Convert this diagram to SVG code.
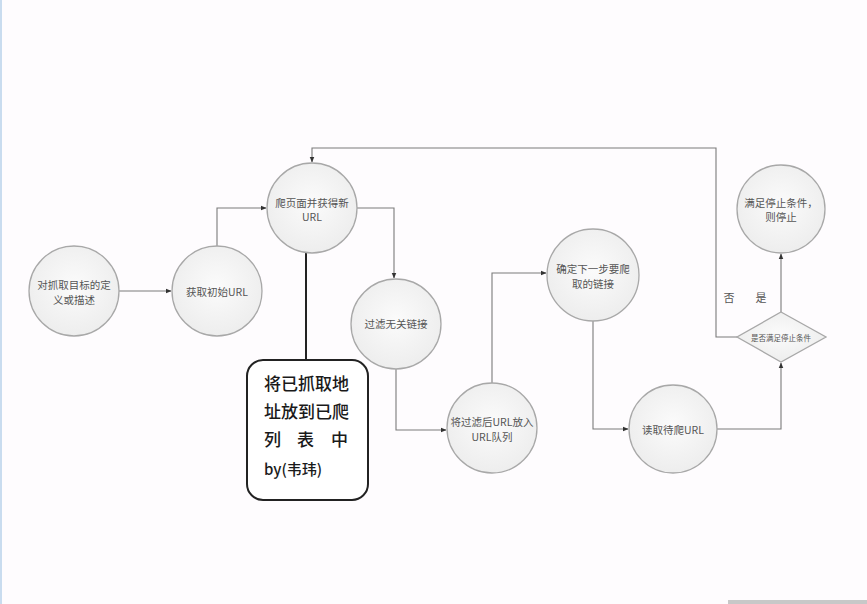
<svg xmlns="http://www.w3.org/2000/svg" width="867" height="604" viewBox="0 0 867 604">
<style>
.bg{fill:#fefcfe}
.node circle{fill:url(#g);stroke:#a8a8a8;stroke-width:1.3}
.node polygon{fill:url(#g);stroke:#a8a8a8;stroke-width:1.3}
.t{font-family:"Noto Sans CJK SC","Noto Sans",sans-serif;font-size:10.5px;fill:#555;text-anchor:middle;dominant-baseline:central}
.s{font-size:7.5px}
.lbl{font-family:"Noto Sans CJK SC",sans-serif;font-size:11px;fill:#555;text-anchor:middle;dominant-baseline:central}
.c path{fill:none;stroke:#7a7a7a;stroke-width:1.1}
.note rect{fill:#fff;stroke:#222;stroke-width:2}
.nt{font-family:"Noto Sans CJK SC","Noto Sans",sans-serif;font-size:17px;font-weight:500;fill:#1a1a1a}
</style>
<defs>
<radialGradient id="g" cx="0.5" cy="0.45" r="0.6">
<stop offset="0" stop-color="#fbfbfb"/>
<stop offset="1" stop-color="#ececec"/>
</radialGradient>
<marker id="a" viewBox="0 0 10 10" refX="9" refY="5" markerWidth="6" markerHeight="6" orient="auto" markerUnits="userSpaceOnUse">
<path d="M0,1 L10,5 L0,9 z" fill="#333"/>
</marker>
</defs>
<rect class="bg" x="0" y="0" width="867" height="604"/>
<rect x="0" y="0" width="2" height="604" fill="#c9dcef"/>
<rect x="728" y="600" width="139" height="4" fill="#c8c8c8"/>

<g class="c" id="connectors">
<path d="M118,291 H171" marker-end="url(#a)"/>
<path d="M217,246 V208 H266" marker-end="url(#a)"/>
<path d="M357,208 H394 V278" marker-end="url(#a)"/>
<path d="M396,369 V430 H446" marker-end="url(#a)"/>
<path d="M492,383 V273 H546" marker-end="url(#a)"/>
<path d="M593,321 V429 H628" marker-end="url(#a)"/>
<path d="M717,429 H781 V363" marker-end="url(#a)"/>
<path d="M781,312 V254" marker-end="url(#a)"/>
<path d="M737,337 H716 V148 H312 V162" marker-end="url(#a)"/>
<path d="M306,253 V360" style="stroke:#222;stroke-width:2"/>
</g>

<g class="node" id="n1">
<circle cx="74" cy="291" r="45"/>
<text class="t" x="74" y="284">对抓取目标的定</text>
<text class="t" x="74" y="299">义或描述</text>
</g>
<g class="node" id="n2">
<circle cx="217" cy="291" r="45"/>
<text class="t" x="217" y="291">获取初始URL</text>
</g>
<g class="node" id="n3">
<circle cx="312" cy="208" r="45"/>
<text class="t" x="312" y="202">爬页面并获得新</text>
<text class="t" x="312" y="216">URL</text>
</g>
<g class="node" id="n4">
<circle cx="396" cy="324" r="45"/>
<text class="t" x="396" y="323">过滤无关链接</text>
</g>
<g class="node" id="n5">
<circle cx="492" cy="428" r="45"/>
<text class="t" x="492" y="421">将过滤后URL放入</text>
<text class="t" x="492" y="436">URL队列</text>
</g>
<g class="node" id="n6">
<circle cx="593" cy="275" r="46"/>
<text class="t" x="593" y="268">确定下一步要爬</text>
<text class="t" x="593" y="283">取的链接</text>
</g>
<g class="node" id="n7">
<circle cx="673" cy="429" r="44"/>
<text class="t" x="673" y="429">读取待爬URL</text>
</g>
<g class="node" id="n8">
<circle cx="781" cy="209" r="44"/>
<text class="t" x="781" y="202">满足停止条件，</text>
<text class="t" x="781" y="216">则停止</text>
</g>
<g class="node" id="n9">
<polygon points="781,312 826,337 781,362 737,337"/>
<text class="t s" x="781" y="337">是否满足停止条件</text>
</g>
<g id="labels">
<text class="lbl" x="729" y="297">否</text>
<text class="lbl" x="761" y="297">是</text>
</g>
<g class="note" id="note">
<rect x="247" y="360" width="121" height="140" rx="16"/>
<text class="nt" x="264" y="390">将已抓取地</text>
<text class="nt" x="264" y="418">址放到已爬</text>
<text class="nt" x="264" y="446">列</text>
<text class="nt" x="297" y="446">表</text>
<text class="nt" x="331" y="446">中</text>
<text class="nt" x="264" y="475" style="font-size:15px">by(韦玮)</text>
</g>
</svg>
